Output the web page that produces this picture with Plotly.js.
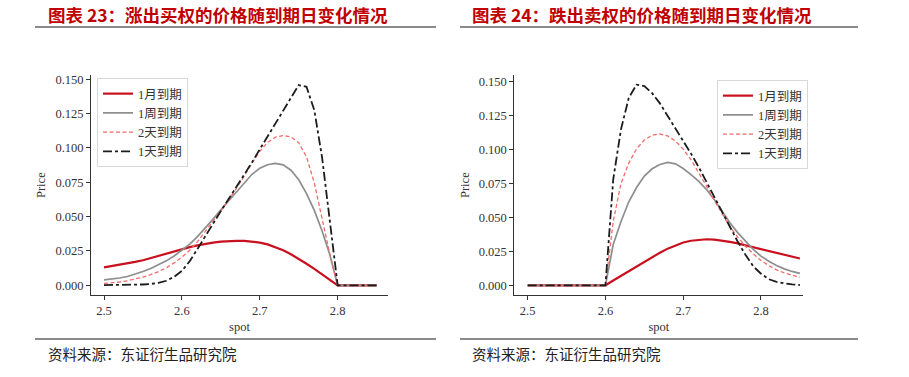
<!DOCTYPE html>
<html>
<head>
<meta charset="utf-8">
<script src="https://cdn.plot.ly/plotly-3.0.1.min.js"></script>
<style>
html,body{margin:0;padding:0;background:#fff;}
#chart{width:909px;height:377px;}
</style>
</head>
<body>
<div id="chart"></div>
<script>
// ---- data ----
const spot = [2.50,2.51,2.52,2.53,2.54,2.55,2.56,2.57,2.58,2.59,2.60,2.61,2.62,2.63,2.64,2.65,2.66,2.67,2.68,2.69,2.70,2.71,2.72,2.73,2.74,2.75,2.76,2.77,2.78,2.79,2.80,2.81,2.82,2.83,2.84,2.85];
const seriesNames = ['1月到期','1周到期','2天到期','1天到期'];
const xTickVals = [2.5,2.6,2.7,2.8];
const yTickVals = [0,0.025,0.05,0.075,0.1,0.125,0.15];

// 涨出买权 (up-and-out call)
const callMonth = [0.0131,0.0140,0.0150,0.0160,0.0170,0.0182,0.0198,0.0216,0.0235,0.0251,0.0265,0.0278,0.0291,0.0302,0.0311,0.0318,0.0322,0.0324,0.0323,0.0319,0.0311,0.0298,0.0279,0.0255,0.0226,0.0193,0.0157,0.0119,0.0080,0.0040,0,0,0,0,0,0];
const callWeek  = [0.0039,0.0045,0.0053,0.0064,0.0080,0.0100,0.0122,0.0148,0.0178,0.0213,0.0255,0.0300,0.0355,0.0415,0.0482,0.0550,0.0615,0.0685,0.0750,0.0808,0.0852,0.0878,0.0888,0.0877,0.0838,0.0768,0.0668,0.0545,0.0395,0.0220,0,0,0,0,0,0];
const call2Day  = [0.0014,0.0018,0.0024,0.0033,0.0045,0.0060,0.0078,0.0100,0.0128,0.0163,0.0205,0.0255,0.0318,0.0390,0.0463,0.0540,0.0620,0.0705,0.0795,0.0890,0.0975,0.1040,0.1078,0.1090,0.1080,0.1038,0.0935,0.0745,0.0472,0.0225,0,0,0,0,0,0];
const call1Day  = [0.0002,0.0002,0.0002,0.0003,0.0004,0.0006,0.0010,0.0018,0.0033,0.0062,0.0105,0.0175,0.0265,0.0360,0.0452,0.0540,0.0628,0.0715,0.0805,0.0895,0.0990,0.1085,0.1180,0.1275,0.1372,0.1458,0.1445,0.1275,0.0930,0.0475,0,0,0,0,0,0];

// 跌出卖权 (down-and-out put)
const putMonth = [0,0,0,0,0,0,0,0,0,0,0,0.0035,0.0070,0.0105,0.0140,0.0175,0.0208,0.0240,0.0270,0.0295,0.0315,0.0328,0.0336,0.0339,0.0336,0.0330,0.0320,0.0309,0.0295,0.0280,0.0266,0.0252,0.0238,0.0224,0.0210,0.0197];
const putWeek  = [0,0,0,0,0,0,0,0,0,0,0,0.0300,0.0470,0.0615,0.0720,0.0805,0.0858,0.0890,0.0905,0.0895,0.0860,0.0815,0.0765,0.0705,0.0630,0.0545,0.0460,0.0388,0.0322,0.0264,0.0215,0.0177,0.0146,0.0121,0.0102,0.0088];
const put2Day  = [0,0,0,0,0,0,0,0,0,0,0,0.0470,0.0750,0.0900,0.1005,0.1070,0.1105,0.1115,0.1100,0.1062,0.1003,0.0925,0.0830,0.0730,0.0625,0.0525,0.0432,0.0355,0.0287,0.0232,0.0183,0.0145,0.0114,0.0091,0.0073,0.0058];
const put1Day  = [0,0,0,0,0,0,0,0,0,0,0,0.0780,0.1150,0.1380,0.1478,0.1468,0.1415,0.1340,0.1250,0.1160,0.1065,0.0970,0.0870,0.0760,0.0650,0.0540,0.0432,0.0322,0.0225,0.0140,0.0085,0.0045,0.0025,0.0013,0.0006,0.0002];

// ---- styles ----
const lineStyles = [
  {color:'#c8101e', width:2.2, dash:'solid'},
  {color:'#8e8e8e', width:1.7, dash:'solid'},
  {color:'#f26b6b', width:1.3, dash:'4px,2.5px'},
  {color:'#1c1c1c', width:1.8, dash:'9px,3px,3px,3px'}
];
const serif = 'Liberation Serif, DejaVu Serif, Noto Sans CJK SC, serif';
const cjk = 'Noto Sans CJK SC, sans-serif';

function makeTraces(seriesList, xa, ya, legendId){
  return seriesList.map((ys,i)=>({
    type:'scatter', mode:'lines', x:spot, y:ys, name:seriesNames[i],
    xaxis:xa, yaxis:ya, legend:legendId,
    line:lineStyles[i], hoverinfo:'skip'
  }));
}

const traces = [].concat(
  makeTraces([callMonth,callWeek,call2Day,call1Day],'x','y','legend'),
  makeTraces([putMonth,putWeek,put2Day,put1Day],'x2','y2','legend2')
);

const W = 909, H = 377;
const px = v => v / W;
const py = v => 1 - v / H;

function xAxis(d0,d1,range,anchor){
  return {domain:[px(d0),px(d1)], range:range, anchor:anchor,
    tickvals:xTickVals, ticktext:xTickVals.map(v=>v.toFixed(1)),
    ticks:'outside', ticklen:4, tickwidth:1, tickcolor:'#333',
    showline:true, linecolor:'#333', linewidth:1, showgrid:false, zeroline:false,
    tickfont:{family:serif,size:12.5,color:'#333'},
    title:{text:'spot', font:{family:serif,size:12.5,color:'#333'}, standoff:4}};
}
function yAxis(range,anchor){
  return {domain:[py(295.3),py(75)], range:range, anchor:anchor,
    tickvals:yTickVals, ticktext:yTickVals.map(v=>v.toFixed(3)),
    ticks:'outside', ticklen:4, tickwidth:1, tickcolor:'#333',
    showline:true, linecolor:'#333', linewidth:1, showgrid:false, zeroline:false,
    tickfont:{family:serif,size:12.5,color:'#333'},
    title:{text:'Price', font:{family:serif,size:12.5,color:'#333'}, standoff:6}};
}

const legendBase = {
  xanchor:'left', yanchor:'top', bgcolor:'rgba(255,255,255,0.9)',
  bordercolor:'#d8d8d8', borderwidth:1,
  font:{family:serif,size:12.5,color:'#333'}, tracegroupgap:0, itemwidth:30
};

const layout = {
  width:W, height:H, margin:{l:0,r:0,t:0,b:0},
  paper_bgcolor:'#fff', plot_bgcolor:'#fff', showlegend:true,
  xaxis: xAxis(91,388,[2.4833,2.8646],'y'),
  yaxis: yAxis([-0.00728,0.1531],'x'),
  xaxis2: xAxis(514.3,803.3,[2.4828,2.8544],'y2'),
  yaxis2: yAxis([-0.00737,0.1549],'x2'),
  legend: Object.assign({x:px(97), y:py(78)}, legendBase),
  legend2: Object.assign({x:px(717), y:py(80)}, legendBase),
  shapes:[
    {type:'line', xref:'paper', yref:'paper', x0:px(35), x1:px(436), y0:py(27), y1:py(27), line:{color:'#8a8a8a', width:2}},
    {type:'line', xref:'paper', yref:'paper', x0:px(460), x1:px(858), y0:py(27), y1:py(27), line:{color:'#8a8a8a', width:2}},
    {type:'line', xref:'paper', yref:'paper', x0:px(35), x1:px(436), y0:py(339), y1:py(339), line:{color:'#8a8a8a', width:2}},
    {type:'line', xref:'paper', yref:'paper', x0:px(460), x1:px(858), y0:py(339), y1:py(339), line:{color:'#8a8a8a', width:2}}
  ],
  annotations:[
    {text:'<b>图表 23：涨出买权的价格随到期日变化情况</b>', xref:'paper', yref:'paper', x:px(46), y:py(14), xanchor:'left', yanchor:'middle', showarrow:false, font:{family:cjk,size:17.5,color:'#c00000'}},
    {text:'<b>图表 24：跌出卖权的价格随到期日变化情况</b>', xref:'paper', yref:'paper', x:px(470), y:py(14), xanchor:'left', yanchor:'middle', showarrow:false, font:{family:cjk,size:17.5,color:'#c00000'}},
    {text:'资料来源：东证衍生品研究院', xref:'paper', yref:'paper', x:px(46), y:py(353), xanchor:'left', yanchor:'middle', showarrow:false, font:{family:cjk,size:14.5,color:'#222'}},
    {text:'资料来源：东证衍生品研究院', xref:'paper', yref:'paper', x:px(470), y:py(353), xanchor:'left', yanchor:'middle', showarrow:false, font:{family:cjk,size:14.5,color:'#222'}}
  ]
};

Plotly.newPlot('chart', traces, layout, {displayModeBar:false, staticPlot:true});
</script>
</body>
</html>
